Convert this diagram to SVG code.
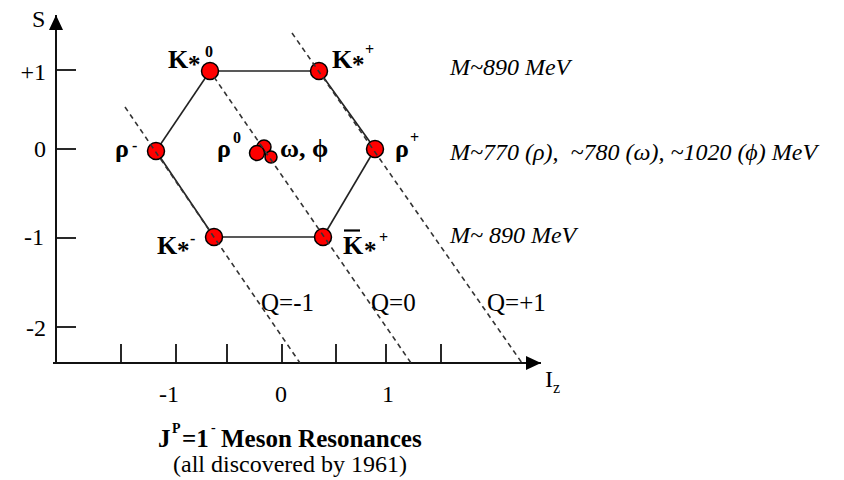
<svg xmlns="http://www.w3.org/2000/svg" width="844" height="480" viewBox="0 0 844 480" font-family="'Liberation Serif', 'Times New Roman', serif">
<style>
text{font-family:"Liberation Serif","Times New Roman",serif;fill:#000}
.ax{stroke:#111;stroke-width:2;fill:none}
.tick{stroke:#111;stroke-width:1.8}
.edge{stroke:#222;stroke-width:1.6;fill:none}
.q{stroke:#333;stroke-width:1.6;stroke-dasharray:5 4;fill:none}
.nd{fill:#ff0000;stroke:#000;stroke-width:1.5}
.lab{font-size:24px}
.pl{font-size:26px;font-weight:bold}
.star{font-size:25px;font-weight:bold}
.sup{font-size:16px;font-weight:bold}
.mass{font-size:24px;font-style:italic}
.ql{font-size:25px}
</style>
<defs>
<marker id="arr" viewBox="0 0 15 14" refX="15" refY="7" markerWidth="15" markerHeight="14" markerUnits="userSpaceOnUse" orient="auto">
<path d="M0,0 L15,7 L0,14 z" fill="#000"/>
</marker>
</defs>

<g id="axes">
<line class="ax" x1="56" y1="363" x2="56" y2="15" marker-end="url(#arr)"/>
<line class="ax" x1="53" y1="363" x2="541" y2="363" marker-end="url(#arr)"/>
<line class="tick" x1="56" y1="70" x2="76" y2="70"/>
<line class="tick" x1="56" y1="149" x2="76" y2="149"/>
<line class="tick" x1="56" y1="238" x2="76" y2="238"/>
<line class="tick" x1="56" y1="327" x2="76" y2="327"/>
<line class="tick" x1="121" y1="344" x2="121" y2="363"/>
<line class="tick" x1="176" y1="344" x2="176" y2="363"/>
<line class="tick" x1="227" y1="344" x2="227" y2="363"/>
<line class="tick" x1="282" y1="344" x2="282" y2="363"/>
<line class="tick" x1="336" y1="344" x2="336" y2="363"/>
<line class="tick" x1="386" y1="344" x2="386" y2="363"/>
<line class="tick" x1="441" y1="344" x2="441" y2="363"/>
<text class="lab" x="32" y="27" font-size="25">S</text>
<text class="lab" x="46" y="80" text-anchor="end">+1</text>
<text class="lab" x="46" y="157" text-anchor="end">0</text>
<text class="lab" x="44" y="245" text-anchor="end">-1</text>
<text class="lab" x="46" y="336" text-anchor="end">-2</text>
<text class="lab" x="169" y="402" text-anchor="middle">-1</text>
<text class="lab" x="281" y="402" text-anchor="middle">0</text>
<text class="lab" x="388" y="402" text-anchor="middle">1</text>
<text class="lab" x="545" y="387" font-size="25">I</text>
<text x="553" y="393" font-size="16">z</text>
</g>

<g id="connectors">
<line class="edge" x1="210" y1="71" x2="319" y2="71"/>
<line class="edge" x1="319" y1="71" x2="375" y2="149"/>
<line class="edge" x1="375" y1="149" x2="323" y2="237"/>
<line class="edge" x1="323" y1="237" x2="214" y2="237"/>
<line class="edge" x1="214" y1="237" x2="156" y2="151"/>
<line class="edge" x1="156" y1="151" x2="210" y2="71"/>
</g>

<g id="node-Kstar0">
<circle class="nd" cx="210" cy="71" r="8.5"/>
<text class="pl" x="168" y="68">K</text>
<text class="star" x="188" y="73">*</text>
<text class="sup" x="205" y="57" font-size="17">0</text>
</g>
<g id="node-Kstarplus">
<circle class="nd" cx="319" cy="71" r="8.5"/>
<text class="pl" x="332" y="68">K</text>
<text class="star" x="352" y="73">*</text>
<text class="sup" x="365" y="55" font-size="18">+</text>
</g>
<g id="node-rhominus">
<circle class="nd" cx="156" cy="151" r="8.5"/>
<text class="pl" x="115" y="157">ρ</text>
<text class="sup" x="132" y="151" font-size="15">-</text>
</g>
<g id="node-rhoplus">
<circle class="nd" cx="375" cy="149" r="8.5"/>
<text class="pl" x="395" y="157">ρ</text>
<text class="sup" x="410" y="143" font-size="17">+</text>
</g>
<g id="node-Kstarminus">
<circle class="nd" cx="214" cy="237" r="8.5"/>
<text class="pl" x="157" y="254">K</text>
<text class="star" x="177" y="259">*</text>
<text class="sup" x="190" y="244" font-size="15">-</text>
</g>
<g id="node-antiKstarplus">
<circle class="nd" cx="323" cy="237" r="8.5"/>
<line x1="344" y1="230.5" x2="360" y2="230.5" stroke="#000" stroke-width="2.2"/>
<text class="pl" x="343" y="254">K</text>
<text class="star" x="364" y="259">*</text>
<text class="sup" x="379" y="243" font-size="18">+</text>
</g>
<g id="node-rho0-omega-phi">
<circle class="nd" cx="264" cy="147" r="7"/>
<circle class="nd" cx="271" cy="157" r="6"/>
<circle class="nd" cx="257" cy="153" r="7.5"/>
<text class="pl" x="217" y="157">ρ</text>
<text class="sup" x="233" y="143" font-size="15">0</text>
<text class="pl" x="280" y="157">ω, ϕ</text>
</g>

<g id="charge-lines">
<line class="q" x1="125" y1="107" x2="300" y2="363"/>
<line class="q" x1="214" y1="77" x2="411" y2="363"/>
<line class="q" x1="292" y1="33" x2="522" y2="363"/>
</g>

<g id="charge-labels">
<text class="ql" x="261" y="311">Q=-1</text>
<text class="ql" x="371" y="311">Q=0</text>
<text class="ql" x="487" y="311">Q=+1</text>
</g>

<g id="mass-labels">
<text class="mass" x="450" y="75">M~890 MeV</text>
<text class="mass" x="450" y="160" xml:space="preserve">M~770 (ρ),  ~780 (ω), ~1020 (ϕ) MeV</text>
<text class="mass" x="450" y="243">M~ 890 MeV</text>
</g>

<g id="title">
<text x="158" y="447" font-size="25" font-weight="bold">J</text>
<text x="172" y="433" font-size="14" font-weight="bold">P</text>
<text x="182" y="447" font-size="25" font-weight="bold">=1</text>
<text x="211" y="432" font-size="14" font-weight="bold">-</text>
<text x="221" y="447" font-size="25" font-weight="bold">Meson Resonances</text>
<text x="173" y="472" font-size="24">(all discovered by 1961)</text>
</g>
</svg>
